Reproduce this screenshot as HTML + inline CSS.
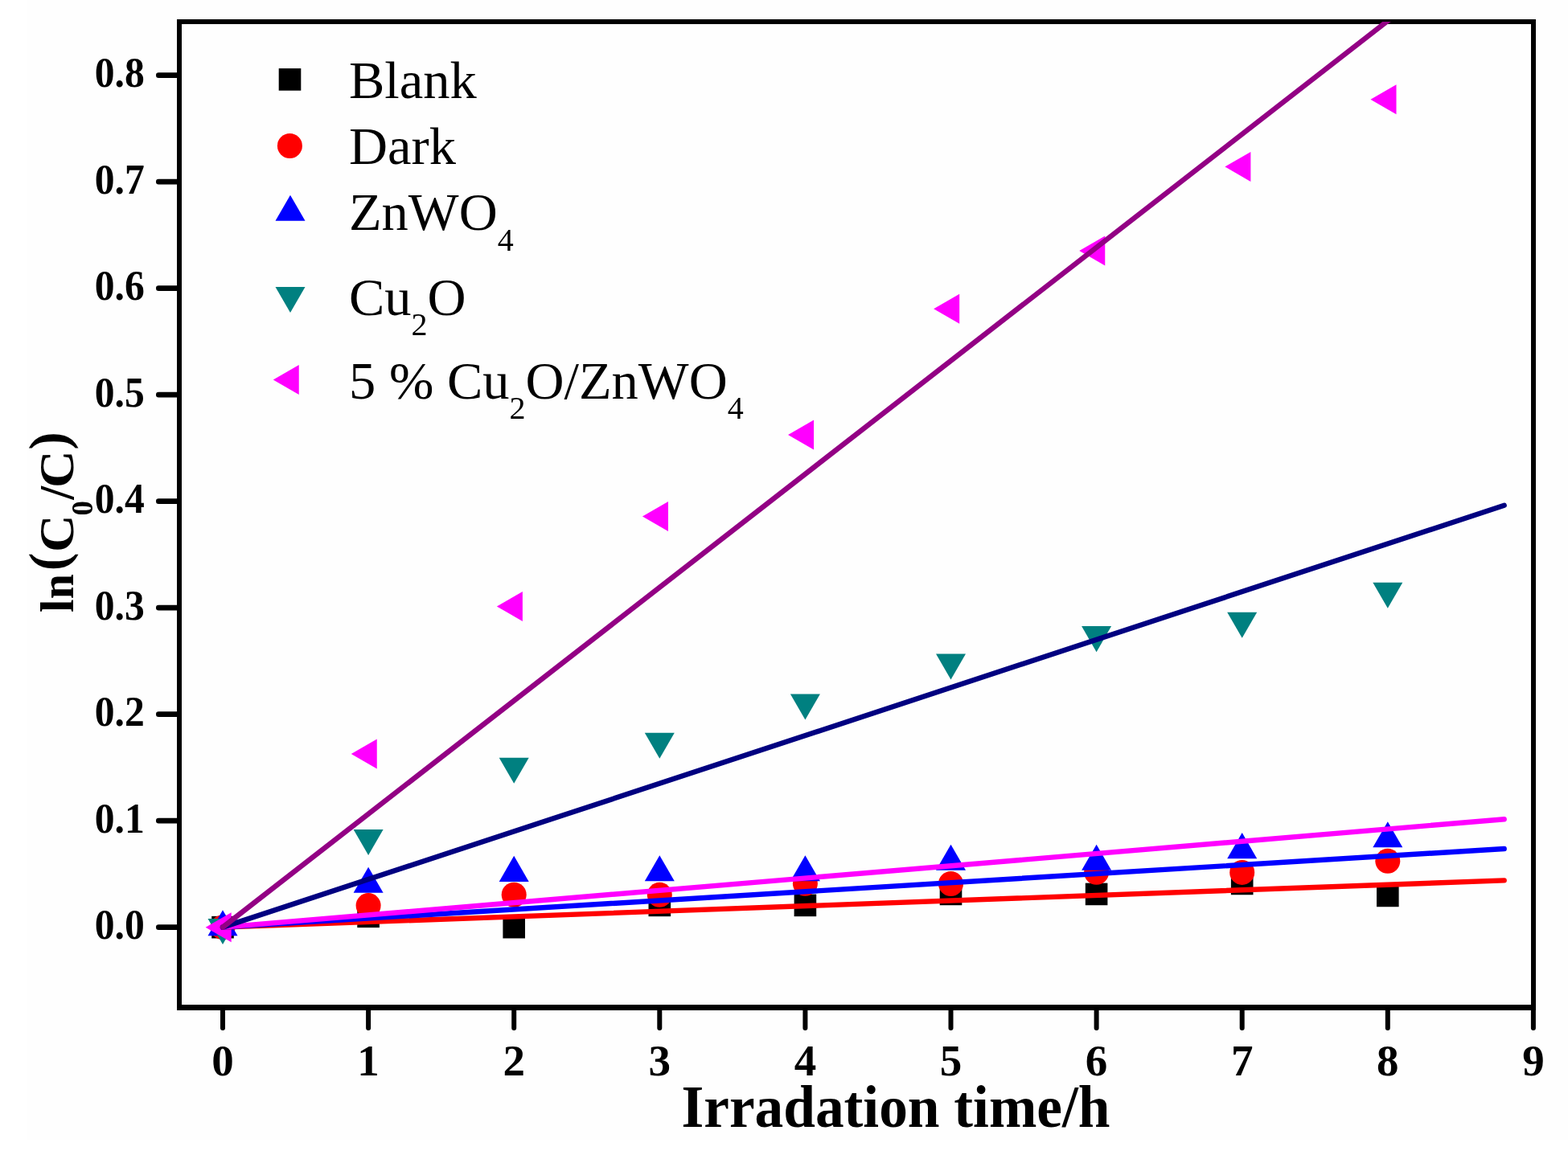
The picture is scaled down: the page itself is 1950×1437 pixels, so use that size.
<!DOCTYPE html>
<html><head><meta charset="utf-8"><title>ln(C0/C) vs Irradiation time</title>
<style>html,body{margin:0;padding:0;background:#fefefe;}svg{display:block;}text{font-family:"Liberation Serif","Times New Roman",serif;}</style></head><body>
<svg width="1950" height="1437" viewBox="0 0 1950 1437">
<defs><clipPath id="plot"><rect x="223" y="27" width="1684" height="1226.5"/></clipPath></defs>
<rect x="0" y="0" width="1950" height="1437" fill="#fefefe"/>
<rect x="0" y="0" width="34" height="1437" fill="#ffffff"/>
<rect x="0" y="1418" width="1950" height="19" fill="#ffffff"/>
<g fill="#000">
<rect x="220" y="24" width="6" height="1233"/>
<rect x="1904" y="24" width="6" height="1233"/>
<rect x="220" y="24" width="1690" height="6"/>
<rect x="220" y="1250" width="1690" height="7"/>
</g>
<g stroke="#000" stroke-linecap="round" fill="none">
<line x1="197.3" y1="1153.65" x2="222" y2="1153.65" stroke-width="6.6"/>
<line x1="197.3" y1="1021.15" x2="222" y2="1021.15" stroke-width="6.6"/>
<line x1="197.3" y1="888.65" x2="222" y2="888.65" stroke-width="6.6"/>
<line x1="197.3" y1="756.15" x2="222" y2="756.15" stroke-width="6.6"/>
<line x1="197.3" y1="623.65" x2="222" y2="623.65" stroke-width="6.6"/>
<line x1="197.3" y1="491.15" x2="222" y2="491.15" stroke-width="6.6"/>
<line x1="197.3" y1="358.65" x2="222" y2="358.65" stroke-width="6.6"/>
<line x1="197.3" y1="226.15" x2="222" y2="226.15" stroke-width="6.6"/>
<line x1="197.3" y1="93.65" x2="222" y2="93.65" stroke-width="6.6"/>
<line x1="277.00" y1="1254" x2="277.00" y2="1279" stroke-width="6"/>
<line x1="458.10" y1="1254" x2="458.10" y2="1279" stroke-width="6"/>
<line x1="639.20" y1="1254" x2="639.20" y2="1279" stroke-width="6"/>
<line x1="820.30" y1="1254" x2="820.30" y2="1279" stroke-width="6"/>
<line x1="1001.40" y1="1254" x2="1001.40" y2="1279" stroke-width="6"/>
<line x1="1182.50" y1="1254" x2="1182.50" y2="1279" stroke-width="6"/>
<line x1="1363.60" y1="1254" x2="1363.60" y2="1279" stroke-width="6"/>
<line x1="1544.70" y1="1254" x2="1544.70" y2="1279" stroke-width="6"/>
<line x1="1725.80" y1="1254" x2="1725.80" y2="1279" stroke-width="6"/>
<line x1="1906.90" y1="1254" x2="1906.90" y2="1279" stroke-width="6"/>
</g>
<g font-weight="bold" fill="#000">
<text x="179.8" y="1168.05" font-size="52" text-anchor="end" textLength="62" lengthAdjust="spacingAndGlyphs">0.0</text>
<text x="179.8" y="1035.55" font-size="52" text-anchor="end" textLength="62" lengthAdjust="spacingAndGlyphs">0.1</text>
<text x="179.8" y="903.05" font-size="52" text-anchor="end" textLength="62" lengthAdjust="spacingAndGlyphs">0.2</text>
<text x="179.8" y="770.55" font-size="52" text-anchor="end" textLength="62" lengthAdjust="spacingAndGlyphs">0.3</text>
<text x="179.8" y="638.05" font-size="52" text-anchor="end" textLength="62" lengthAdjust="spacingAndGlyphs">0.4</text>
<text x="179.8" y="505.55" font-size="52" text-anchor="end" textLength="62" lengthAdjust="spacingAndGlyphs">0.5</text>
<text x="179.8" y="373.05" font-size="52" text-anchor="end" textLength="62" lengthAdjust="spacingAndGlyphs">0.6</text>
<text x="179.8" y="240.55" font-size="52" text-anchor="end" textLength="62" lengthAdjust="spacingAndGlyphs">0.7</text>
<text x="179.8" y="108.05" font-size="52" text-anchor="end" textLength="62" lengthAdjust="spacingAndGlyphs">0.8</text>
<text x="277.00" y="1337.8" font-size="55" text-anchor="middle">0</text>
<text x="458.10" y="1337.8" font-size="55" text-anchor="middle">1</text>
<text x="639.20" y="1337.8" font-size="55" text-anchor="middle">2</text>
<text x="820.30" y="1337.8" font-size="55" text-anchor="middle">3</text>
<text x="1001.40" y="1337.8" font-size="55" text-anchor="middle">4</text>
<text x="1182.50" y="1337.8" font-size="55" text-anchor="middle">5</text>
<text x="1363.60" y="1337.8" font-size="55" text-anchor="middle">6</text>
<text x="1544.70" y="1337.8" font-size="55" text-anchor="middle">7</text>
<text x="1725.80" y="1337.8" font-size="55" text-anchor="middle">8</text>
<text x="1906.90" y="1337.8" font-size="55" text-anchor="middle">9</text>
</g>
<text x="847.5" y="1401.9" font-size="73" font-weight="bold" textLength="533" lengthAdjust="spacingAndGlyphs">Irradation time/h</text>
<text transform="translate(90.9,762) rotate(-90)" font-weight="bold"><tspan x="0.05" y="0" font-size="59">l</tspan><tspan x="16.8" y="0" font-size="59" textLength="31.07" lengthAdjust="spacingAndGlyphs">n</tspan><tspan x="51.8" y="-8.1" font-size="67.8">(</tspan><tspan x="75.1" y="0" font-size="61.3" textLength="46.5" lengthAdjust="spacingAndGlyphs">C</tspan><tspan x="120.6" y="23.8" font-size="36.9">0</tspan><tspan x="140.3" y="0" font-size="60.5">/</tspan><tspan x="155.1" y="0" font-size="61.3" textLength="46.5" lengthAdjust="spacingAndGlyphs">C</tspan><tspan x="202.2" y="-8.1" font-size="67.8">)</tspan></text>
<g>
<rect x="263.20" y="1139.85" width="27.6" height="27.6" fill="#000000"/>
<rect x="444.30" y="1126.47" width="27.6" height="27.6" fill="#000000"/>
<rect x="625.40" y="1139.85" width="27.6" height="27.6" fill="#000000"/>
<rect x="806.50" y="1112.56" width="27.6" height="27.6" fill="#000000"/>
<rect x="987.60" y="1112.56" width="27.6" height="27.6" fill="#000000"/>
<rect x="1168.70" y="1098.64" width="27.6" height="27.6" fill="#000000"/>
<rect x="1349.80" y="1098.64" width="27.6" height="27.6" fill="#000000"/>
<rect x="1530.90" y="1085.66" width="27.6" height="27.6" fill="#000000"/>
<rect x="1712.00" y="1100.63" width="27.6" height="27.6" fill="#000000"/>
<circle cx="277.00" cy="1153.65" r="15.5" fill="#ff0000"/>
<circle cx="458.10" cy="1126.62" r="15.5" fill="#ff0000"/>
<circle cx="639.20" cy="1113.24" r="15.5" fill="#ff0000"/>
<circle cx="820.30" cy="1113.37" r="15.5" fill="#ff0000"/>
<circle cx="1001.40" cy="1099.19" r="15.5" fill="#ff0000"/>
<circle cx="1182.50" cy="1099.46" r="15.5" fill="#ff0000"/>
<circle cx="1363.60" cy="1085.28" r="15.5" fill="#ff0000"/>
<circle cx="1544.70" cy="1085.41" r="15.5" fill="#ff0000"/>
<circle cx="1725.80" cy="1071.37" r="15.5" fill="#ff0000"/>
<polygon points="277.00,1132.29 258.50,1164.33 295.50,1164.33" fill="#0000ff"/>
<polygon points="458.10,1078.76 439.60,1110.80 476.60,1110.80" fill="#0000ff"/>
<polygon points="639.20,1064.85 620.70,1096.89 657.70,1096.89" fill="#0000ff"/>
<polygon points="820.30,1064.18 801.80,1096.23 838.80,1096.23" fill="#0000ff"/>
<polygon points="1001.40,1064.18 982.90,1096.23 1019.90,1096.23" fill="#0000ff"/>
<polygon points="1182.50,1050.80 1164.00,1082.84 1201.00,1082.84" fill="#0000ff"/>
<polygon points="1363.60,1050.80 1345.10,1082.84 1382.10,1082.84" fill="#0000ff"/>
<polygon points="1544.70,1036.09 1526.20,1068.14 1563.20,1068.14" fill="#0000ff"/>
<polygon points="1725.80,1022.18 1707.30,1054.22 1744.30,1054.22" fill="#0000ff"/>
<polygon points="277.00,1175.01 258.50,1142.97 295.50,1142.97" fill="#008080"/>
<polygon points="458.10,1064.11 439.60,1032.07 476.60,1032.07" fill="#008080"/>
<polygon points="639.20,974.67 620.70,942.63 657.70,942.63" fill="#008080"/>
<polygon points="820.30,943.80 801.80,911.76 838.80,911.76" fill="#008080"/>
<polygon points="1001.40,895.57 982.90,863.53 1019.90,863.53" fill="#008080"/>
<polygon points="1182.50,845.48 1164.00,813.44 1201.00,813.44" fill="#008080"/>
<polygon points="1363.60,811.17 1345.10,779.12 1382.10,779.12" fill="#008080"/>
<polygon points="1544.70,793.81 1526.20,761.77 1563.20,761.77" fill="#008080"/>
<polygon points="1725.80,756.84 1707.30,724.80 1744.30,724.80" fill="#008080"/>
<polygon points="255.64,1153.65 287.68,1135.15 287.68,1172.15" fill="#ff00ff"/>
<polygon points="436.74,937.94 468.78,919.44 468.78,956.44" fill="#ff00ff"/>
<polygon points="617.84,754.43 649.88,735.93 649.88,772.93" fill="#ff00ff"/>
<polygon points="798.94,642.60 830.98,624.10 830.98,661.10" fill="#ff00ff"/>
<polygon points="980.04,540.97 1012.08,522.47 1012.08,559.47" fill="#ff00ff"/>
<polygon points="1161.14,384.36 1193.18,365.86 1193.18,402.86" fill="#ff00ff"/>
<polygon points="1342.24,311.88 1374.28,293.38 1374.28,330.38" fill="#ff00ff"/>
<polygon points="1523.34,207.47 1555.38,188.97 1555.38,225.97" fill="#ff00ff"/>
<polygon points="1704.44,123.86 1736.48,105.36 1736.48,142.36" fill="#ff00ff"/>
</g>
<g clip-path="url(#plot)" stroke-width="6.4" stroke-linecap="round" fill="none">
<line x1="277.00" y1="1153.65" x2="1870.68" y2="1095.38" stroke="#ff0000"/>
<line x1="277.00" y1="1153.65" x2="1870.68" y2="1056.00" stroke="#0000ff"/>
<line x1="277.00" y1="1153.65" x2="1870.68" y2="1019.25" stroke="#ff00ff"/>
<line x1="277.00" y1="1153.65" x2="1870.68" y2="628.78" stroke="#000080"/>
<line x1="277.00" y1="1153.65" x2="1870.68" y2="-86.84" stroke="#930084"/>
</g>
<g>
<rect x="346.70" y="85.10" width="27.6" height="27.6" fill="#000000"/>
<circle cx="360.40" cy="181.50" r="15.5" fill="#ff0000"/>
<polygon points="361.00,242.74 342.50,274.78 379.50,274.78" fill="#0000ff"/>
<polygon points="361.00,389.06 342.50,357.02 379.50,357.02" fill="#008080"/>
<polygon points="339.74,472.40 371.78,453.90 371.78,490.90" fill="#ff00ff"/>
</g>
<g font-size="66.5" fill="#000">
<text x="434" y="121.8">Blank</text>
<text x="434" y="203.7">Dark</text>
<text x="434" y="286.2">ZnWO<tspan font-size="40" dy="25.5">4</tspan></text>
<text x="434" y="391.6">Cu<tspan font-size="40" dy="25">2</tspan><tspan dy="-25">O</tspan></text>
<text x="434" y="496">5 % Cu<tspan font-size="40" dy="24.5">2</tspan><tspan dy="-24.5">O/ZnWO</tspan><tspan font-size="40" dy="24.5">4</tspan></text>
</g>
</svg></body></html>
